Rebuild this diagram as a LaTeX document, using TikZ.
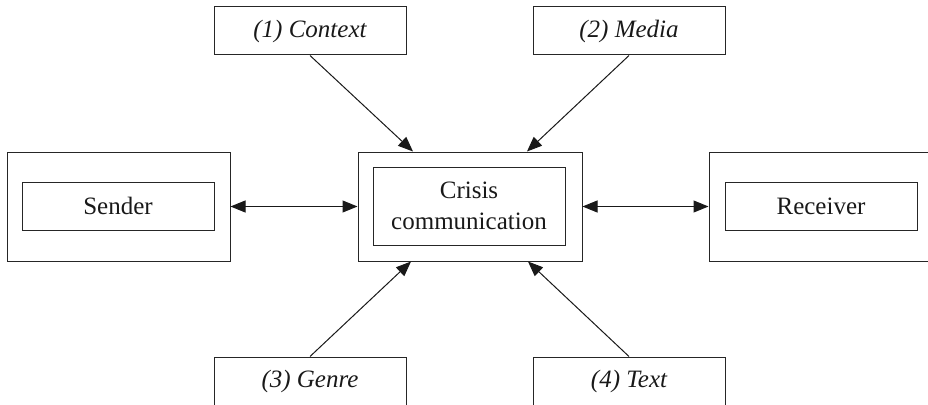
\documentclass[tikz,border=0pt]{standalone}
\usepackage{fontspec}
\setmainfont{Liberation Serif}
\usetikzlibrary{arrows.meta}
\begin{document}
\begin{tikzpicture}[x=1pt,y=-1pt,
  box/.style={draw=black!85,line width=1pt,rectangle,inner sep=0pt,anchor=center},
  lbl/.style={font=\fontsize{25}{31}\selectfont,text=black!90,align=center},
  conn/.style={draw=black!90,line width=1pt,-{Triangle[length=15pt,width=12pt]}},
  biconn/.style={draw=black!90,line width=1pt,{Triangle[length=15pt,width=12pt]}-{Triangle[length=15pt,width=12pt]}}]
\useasboundingbox (0,0) rectangle (928,404);
% sender
\node[box,minimum width=223pt,minimum height=109pt] (snd) at (118.5,206.5) {};
\node[box,lbl,minimum width=192pt,minimum height=48pt] (sndi) at (118,206) {Sender};
% center
\node[box,minimum width=224pt,minimum height=109pt] (cen) at (470,206.5) {};
\node[box,lbl,minimum width=192pt,minimum height=78pt] (ceni) at (469,206) {Crisis\\communication};
% receiver
\node[box,minimum width=240pt,minimum height=109pt] (rcv) at (829,206.5) {};
\node[box,lbl,minimum width=192pt,minimum height=48pt] (rcvi) at (821,206) {Receiver};
% factors
\node[box,lbl,minimum width=192pt,minimum height=48pt] (ctx) at (310,31) {\itshape (1) Context};
\node[box,lbl,minimum width=192pt,minimum height=48pt] (med) at (629,31) {\itshape (2) Media};
\node[box,lbl,minimum width=192pt,minimum height=48pt] (gen) at (310,381) {\itshape (3) Genre};
\node[box,lbl,minimum width=192pt,minimum height=48pt] (txt) at (629,381) {\itshape (4) Text};
% connectors
\draw[conn] (ctx.south) -- ([xshift=-57pt]cen.north);
\draw[conn] (med.south) -- ([xshift=57pt]cen.north);
\draw[conn] (gen.north) -- ([xshift=-59pt]cen.south);
\draw[conn] (txt.north) -- ([xshift=58pt]cen.south);
\draw[biconn] (snd.east) -- (cen.west);
\draw[biconn] (cen.east) -- (rcv.west);
\end{tikzpicture}
\end{document}
